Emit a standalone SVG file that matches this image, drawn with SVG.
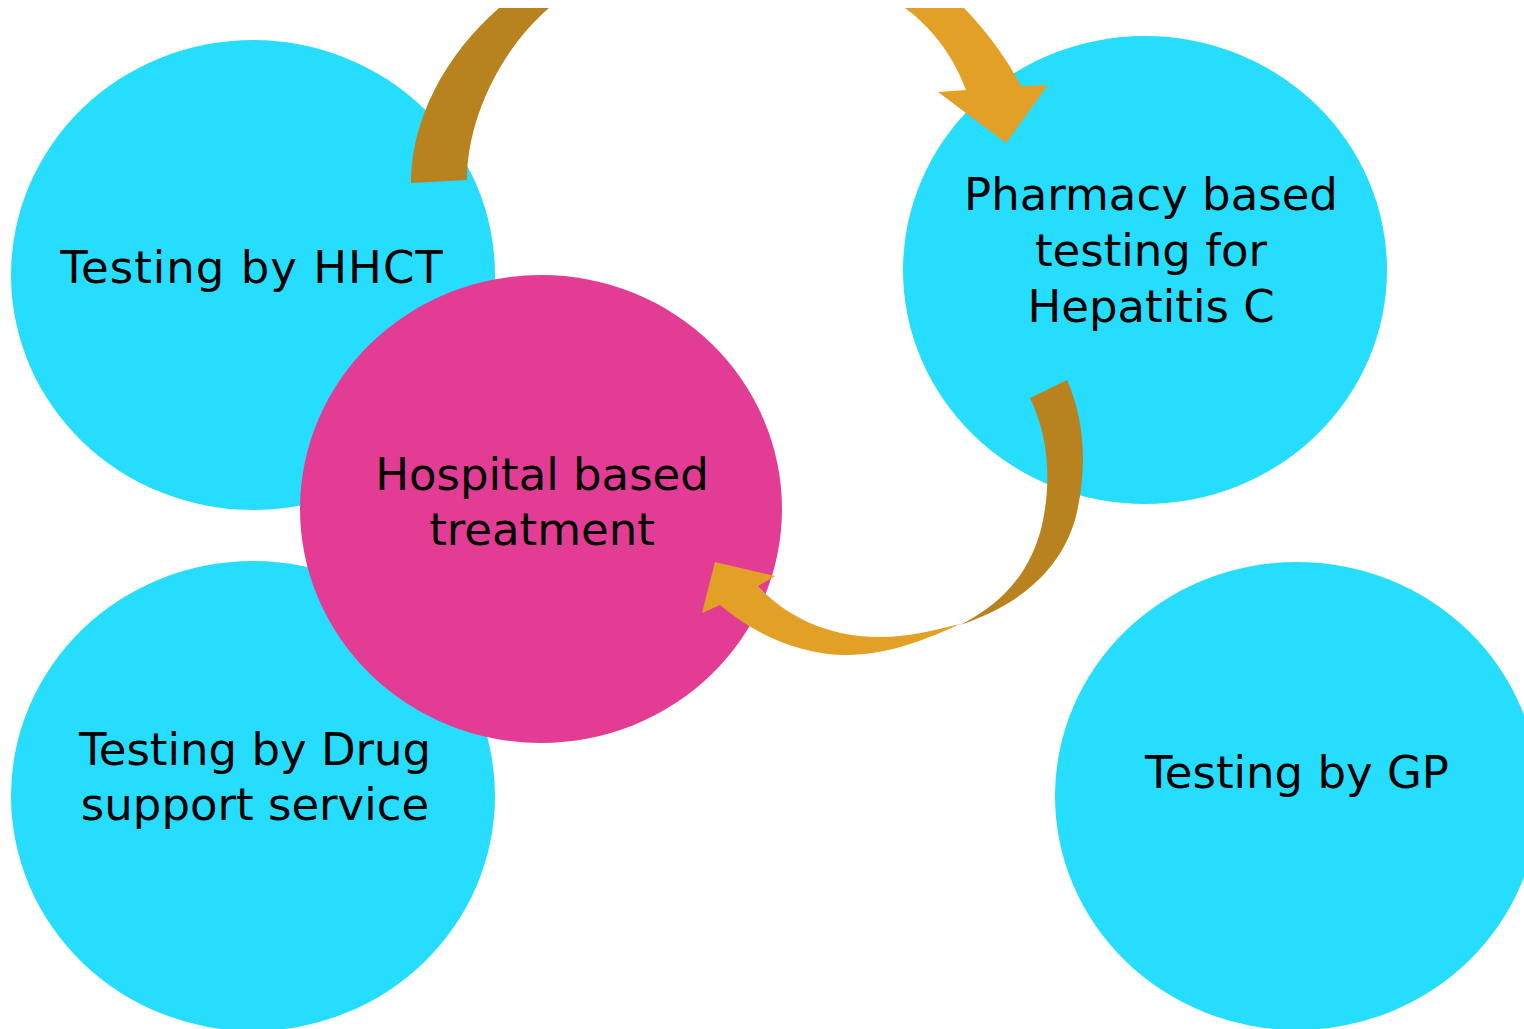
<svg xmlns="http://www.w3.org/2000/svg" width="1524" height="1029" viewBox="0 0 1524 1029">
<style>
.c{fill:#27DDFE}
.h{fill:#E33C94}
.t{font-family:"DejaVu Sans",Verdana,sans-serif;font-size:45px;fill:#000;text-anchor:middle}
.br{fill:#B8821F}
.or{fill:#E3A027}
</style>
<rect width="1524" height="1029" fill="#fff"/>
<g id="hhct"><ellipse class="c" cx="253" cy="275" rx="242" ry="235"/><text class="t" x="252" y="283" letter-spacing="1">Testing by HHCT</text></g>
<g id="drug"><ellipse class="c" cx="253" cy="796" rx="242" ry="235"/><text class="t" x="255" y="765">Testing by Drug</text><text class="t" x="255" y="820">support service</text></g>
<g id="pharmacy"><ellipse class="c" cx="1145" cy="270" rx="242" ry="234"/><text class="t" x="1151" y="210">Pharmacy based</text><text class="t" x="1151" y="266">testing for</text><text class="t" x="1151" y="322">Hepatitis C</text></g>
<g id="gp"><ellipse class="c" cx="1297" cy="796" rx="242" ry="234"/><text class="t" x="1297" y="788">Testing by GP</text></g>
<g id="hospital"><ellipse class="h" cx="541" cy="509" rx="241" ry="234"/><text class="t" x="542" y="490">Hospital based</text><text class="t" x="542" y="545">treatment</text></g>
<g id="connectors">
<path class="br" d="M411,183 C411,120 445,55 499,8 L549,8 C500,50 467,120 467,180 Z"/>
<path class="or" d="M905,8 L964,8 C985,30 1005,55 1021,86 L1048,85 L1006,143 L938,92 L966,90 C955,60 935,30 905,8 Z"/>
<path class="br" d="M1030,398 L1067,380 C1085,420 1088,470 1075,520 C1060,570 1020,605 960,625 C1000,605 1030,575 1042,525 C1052,480 1048,435 1030,398 Z"/>
<path class="or" d="M960,624 C925,640 885,656 843,655 C800,654 755,635 720,605 L702,613 L715,562 L775,576 L758,586 C780,610 820,637 880,637 C910,637 935,630 960,624 Z"/>
</g>
</svg>
